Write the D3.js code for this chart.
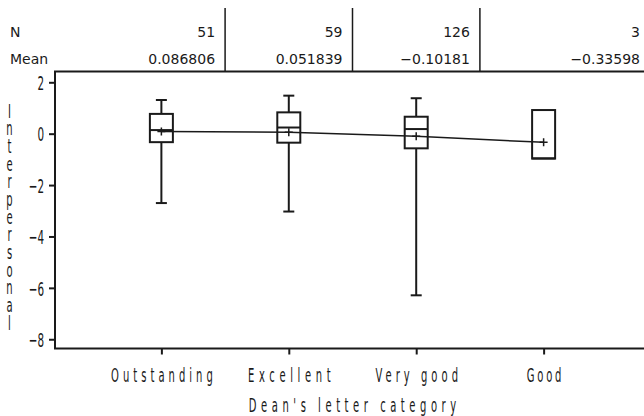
<!DOCTYPE html>
<html><head><meta charset="utf-8">
<script src="https://cdn.jsdelivr.net/npm/d3@7"></script>
<style>html,body{margin:0;padding:0;background:#fff;}svg{display:block;}</style>
</head><body>
<script>
const categories = ["Outstanding", "Excellent", "Very good", "Good"];
const nValues = [51, 59, 126, 3];
const means = [0.086806, 0.051839, -0.10181, -0.33598];
const maxV = [1.31, 1.48, 1.38, 0.92];
const q3V = [0.77, 0.83, 0.66, 0.92];
const medV = [0.14, 0.24, 0.18, -0.96];
const q1V = [-0.33, -0.35, -0.57, -0.97];
const minV = [-2.70, -3.03, -6.29, -0.97];
const yTicks = [2, 0, -2, -4, -6, -8];
const yTitle = "Interpersonal";
const xTitle = "Dean's letter category";

const W = 644, H = 416;
const L = 55, R = 650, T = 71.5, B = 348.5;
const ink = "#1a1a1a";
const svg = d3.select("body").append("svg").attr("width", W).attr("height", H);

const x = d3.scalePoint().domain(categories).range([L, R]).padding(0.835);
const y = d3.scaleLinear().domain([-8.36, 2.42]).range([B, T]);
const step = x.step();

const font = "DejaVu Sans, sans-serif";
const SX = 0.8, SY = 1.55;

// Header table
const hdr = svg.append("g").attr("font-family", font).attr("font-size", 14).attr("fill", ink);
hdr.append("text").attr("x", 10).attr("y", 36.5).text("N");
hdr.append("text").attr("x", 10).attr("y", 63.5).text("Mean");
categories.forEach((c, i) => {
  const right = i < categories.length - 1 ? x(c) + step / 2 : R;
  hdr.append("text").attr("x", right - 10).attr("y", 36.5).attr("text-anchor", "end").text(nValues[i]);
  hdr.append("text").attr("x", right - 10).attr("y", 63.5).attr("text-anchor", "end")
    .text(String(means[i]).replace("-", "\u2212"));
  if (i < categories.length - 1) {
    svg.append("line").attr("x1", right).attr("x2", right).attr("y1", 8).attr("y2", T)
      .attr("stroke", ink).attr("stroke-width", 1.5);
  }
});

// Frame
svg.append("path").attr("d", `M${R},${T}H${L}V${B}H${R}`).attr("fill", "none")
  .attr("stroke", ink).attr("stroke-width", 2);

// Y axis
const yAxis = svg.append("g").attr("transform", `translate(${L},0)`)
  .call(d3.axisLeft(y).tickValues(yTicks).tickSize(6).tickSizeOuter(0).tickFormat(d3.format("d")));
yAxis.select(".domain").remove();
yAxis.selectAll(".tick line").attr("stroke", ink).attr("stroke-width", 2);
yAxis.selectAll(".tick text")
  .attr("font-family", font).attr("font-size", 13).attr("fill", ink)
  .attr("transform", `scale(${SX},${SY})`)
  .attr("x", -11 / SX).attr("y", 0).attr("dy", "0.36em");

// X axis
const xAxis = svg.append("g").attr("transform", `translate(0,${B})`)
  .call(d3.axisBottom(x).tickSize(6).tickSizeOuter(0));
xAxis.select(".domain").remove();
xAxis.selectAll(".tick line").attr("stroke", ink).attr("stroke-width", 2);
xAxis.selectAll(".tick text")
  .attr("font-family", font).attr("font-size", 12.5).attr("fill", ink)
  .attr("transform", `scale(${SX},${SY})`)
  .attr("x", 0).attr("y", 33.5 / SY).attr("dy", 0)
  .attr("textLength", d => (d.length - 0.4) * 9.6 / SX)
  .attr("lengthAdjust", "spacing");

// X title
svg.append("g").attr("transform", `translate(${(L + R) / 2},412) scale(${SX},${SY})`)
  .append("text").attr("text-anchor", "middle").attr("font-family", font).attr("font-size", 12.5)
  .attr("fill", ink).attr("textLength", (xTitle.length - 0.4) * 9.6 / SX).attr("lengthAdjust", "spacing")
  .text(xTitle);

// Y title: one vertical text with upright letters
svg.append("g").attr("transform", `translate(9.5,100) scale(${SX},${SY})`)
  .append("text")
  .attr("font-family", font).attr("font-size", 12.5).attr("fill", ink)
  .style("writing-mode", "vertical-rl").style("text-orientation", "upright")
  .attr("letter-spacing", (17.6 / SY) - 1.164 * 12.5)
  .text(yTitle);

// Boxes
const boxW = 23, capW = 11;
const gb = svg.append("g").attr("stroke", ink).attr("fill", "none");
categories.forEach((c, i) => {
  const cx = x(c);
  if (maxV[i] > q3V[i]) {
    gb.append("line").attr("x1", cx).attr("x2", cx).attr("y1", y(q3V[i])).attr("y2", y(maxV[i])).attr("stroke-width", 2);
    gb.append("line").attr("x1", cx - capW / 2).attr("x2", cx + capW / 2).attr("y1", y(maxV[i])).attr("y2", y(maxV[i])).attr("stroke-width", 2);
  }
  if (minV[i] < q1V[i]) {
    gb.append("line").attr("x1", cx).attr("x2", cx).attr("y1", y(q1V[i])).attr("y2", y(minV[i])).attr("stroke-width", 2);
    gb.append("line").attr("x1", cx - capW / 2).attr("x2", cx + capW / 2).attr("y1", y(minV[i])).attr("y2", y(minV[i])).attr("stroke-width", 2);
  }
  gb.append("rect").attr("x", cx - boxW / 2).attr("width", boxW)
    .attr("y", y(q3V[i])).attr("height", y(q1V[i]) - y(q3V[i])).attr("stroke-width", 2);
  gb.append("line").attr("x1", cx - boxW / 2).attr("x2", cx + boxW / 2)
    .attr("y1", y(medV[i])).attr("y2", y(medV[i])).attr("stroke-width", 2);
});

// Mean line and markers
const meanData = categories.map((c, i) => [x(c), y(means[i])]);
svg.append("path").attr("d", d3.line()(meanData)).attr("fill", "none")
  .attr("stroke", ink).attr("stroke-width", 1.5);
meanData.forEach(([mx, my]) => {
  svg.append("path").attr("d", `M${mx - 4},${my}H${mx + 4}M${mx},${my - 4}V${my + 4}`)
    .attr("stroke", ink).attr("stroke-width", 1.5);
});
</script>
</body></html>
